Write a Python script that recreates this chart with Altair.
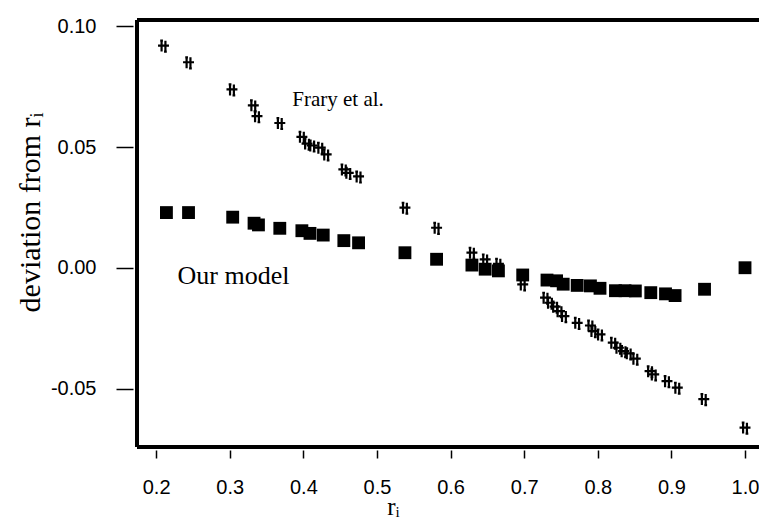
import altair as alt
import pandas as pd

# "Our model" (filled squares)
model_r = [0.214, 0.244, 0.304, 0.333, 0.339, 0.368, 0.398, 0.409, 0.427, 0.455, 0.475,
           0.538, 0.581, 0.629, 0.647, 0.665, 0.698, 0.731, 0.744, 0.753, 0.772, 0.790,
           0.803, 0.824, 0.837, 0.851, 0.872, 0.892, 0.905, 0.945, 1.000]
model_dev = [0.0229, 0.0229, 0.0210, 0.0185, 0.0178, 0.0164, 0.0154, 0.0143, 0.0136, 0.0113, 0.0104,
             0.0063, 0.0036, 0.0012, -0.0005, -0.0012, -0.0029, -0.0050, -0.0053, -0.0067, -0.0072, -0.0074,
             -0.0084, -0.0094, -0.0094, -0.0095, -0.0102, -0.0107, -0.0114, -0.0088, 0.0001]

# "Frary et al." (hash-like stars)
frary_r = [0.210, 0.244, 0.303, 0.332, 0.337, 0.368, 0.398, 0.405, 0.412, 0.423, 0.431,
           0.455, 0.461, 0.475, 0.538, 0.581, 0.629, 0.647, 0.665, 0.698,
           0.729, 0.735, 0.742, 0.748, 0.754, 0.772, 0.790, 0.794, 0.803,
           0.821, 0.828, 0.835, 0.842, 0.851, 0.871, 0.876, 0.894, 0.908, 0.944, 1.000]
frary_dev = [0.0917, 0.0848, 0.0736, 0.0670, 0.0625, 0.0597, 0.0540, 0.0512, 0.0504, 0.0495, 0.0467,
             0.0405, 0.0391, 0.0376, 0.0247, 0.0164, 0.0061, 0.0033, 0.0015, -0.0070,
             -0.0125, -0.0146, -0.0162, -0.0181, -0.0201, -0.0229, -0.0240, -0.0263, -0.0277,
             -0.0311, -0.0332, -0.0346, -0.0355, -0.0377, -0.0429, -0.0442, -0.0470, -0.0497, -0.0544, -0.0662]

x_ticks = [0.2, 0.3, 0.4, 0.5, 0.6, 0.7, 0.8, 0.9, 1.0]
y_ticks = [-0.05, 0.0, 0.05, 0.10]

frary_label = ["Frary et al."]
frary_label_r = [0.385]
frary_label_dev = [0.0694]
model_label = ["Our model"]
model_label_r = [0.229]
model_label_dev = [-0.0035]

W, H = 622, 427

model_df = pd.DataFrame({"r": model_r, "dev": model_dev})
frary_df = pd.DataFrame({"r": frary_r, "dev": frary_dev})
frary_lab_df = pd.DataFrame({"r": frary_label_r, "dev": frary_label_dev, "text": frary_label})
model_lab_df = pd.DataFrame({"r": model_label_r, "dev": model_label_dev, "text": model_label})

xs = alt.Scale(domain=[0.174, 1.019], nice=False, zero=False)
ys = alt.Scale(domain=[-0.0740, 0.1025], nice=False, zero=False)

x_axis = alt.Axis(values=x_ticks, format=".1f", domain=False, grid=False, offset=3,
                  tickSize=8, tickWidth=1.5, tickColor="black",
                  labelFont="Liberation Sans", labelFontSize=20, labelColor="black",
                  labelPadding=19, labelBaseline="top",
                  title="rᵢ", titleFont="Liberation Serif", titleFontSize=25,
                  titleFontWeight="normal", titleColor="black",
                  titleX=256, titleY=64, titleAlign="center", titleBaseline="alphabetic")
y_axis = alt.Axis(values=y_ticks, domain=False, grid=False, offset=4,
                  labelExpr="datum.value < 0 ? '-' + format(-datum.value, '.2f') : format(datum.value, '.2f')",
                  tickSize=17, tickWidth=1.5, tickColor="black",
                  labelFont="Liberation Sans", labelFontSize=20, labelColor="black",
                  labelPadding=20,
                  title="deviation from rᵢ", titleFont="Liberation Serif", titleFontSize=30,
                  titleFontWeight="normal", titleColor="black",
                  titleX=-103, titleY=192, titleAlign="center", titleBaseline="middle")

squares = alt.Chart(model_df).mark_point(shape="square", filled=True, size=165,
                                          color="black", opacity=1).encode(
    x=alt.X("r:Q", scale=xs, axis=x_axis),
    y=alt.Y("dev:Q", scale=ys, axis=y_axis),
)

hash_path = "M-0.35,-1V1M0.35,-1V1M-1,-0.1H1M-0.6,-1H-0.1M0.1,1H0.6"
stars = alt.Chart(frary_df).mark_point(shape=hash_path, filled=False, size=120,
                                        strokeWidth=2.2, color="black", opacity=1).encode(
    x=alt.X("r:Q", scale=xs),
    y=alt.Y("dev:Q", scale=ys),
)

frary_text = alt.Chart(frary_lab_df).mark_text(font="Liberation Serif", fontSize=21, align="left",
                                                baseline="middle", color="black").encode(
    x=alt.X("r:Q", scale=xs), y=alt.Y("dev:Q", scale=ys), text="text:N")
model_text = alt.Chart(model_lab_df).mark_text(font="Liberation Serif", fontSize=26, align="left",
                                                baseline="middle", color="black").encode(
    x=alt.X("r:Q", scale=xs), y=alt.Y("dev:Q", scale=ys), text="text:N")

frame_top = alt.Chart(model_df).mark_rule(color="black", strokeWidth=2.5).encode(
    x=alt.value(0), x2=alt.value(W + 8), y=alt.value(0))
frame_left = alt.Chart(model_df).mark_rule(color="black", strokeWidth=2.5).encode(
    x=alt.value(0), y=alt.value(0), y2=alt.value(H))
frame_bottom = alt.Chart(model_df).mark_rule(color="black", strokeWidth=2.5).encode(
    x=alt.value(0), x2=alt.value(W + 8), y=alt.value(H))

chart = alt.layer(frame_top, frame_left, frame_bottom, stars, squares,
                  frary_text, model_text).properties(
    width=W, height=H,
    autosize=alt.AutoSizeParams(type="none"),
    padding={"left": 129, "top": 12, "right": 0, "bottom": 75},
    background="white",
).configure_view(stroke=None)

chart.save("out.html", embed_options={"renderer": "svg", "actions": False})
